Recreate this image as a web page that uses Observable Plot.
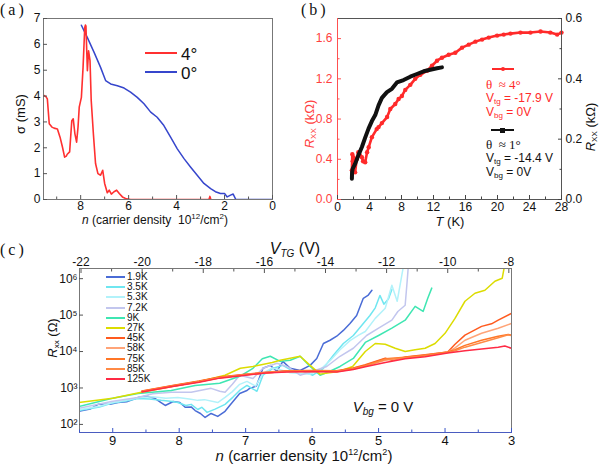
<!DOCTYPE html>
<html><head><meta charset="utf-8">
<script src="https://cdn.jsdelivr.net/npm/d3@7"></script>
<script src="https://cdn.jsdelivr.net/npm/@observablehq/plot@0.6"></script>
<style>
html,body{margin:0;padding:0;background:#fff;}
#wrap{position:relative;width:600px;height:466px;overflow:hidden;font-family:"Liberation Sans",Arial,sans-serif;color:#111;}
.abs{position:absolute;white-space:nowrap;line-height:1;}
.serif{font-family:"Liberation Serif","Times New Roman",serif;}
.sb{font-size:8px;position:relative;top:2px;vertical-align:baseline;line-height:0;}
.sp{font-size:8px;position:relative;top:-5px;vertical-align:baseline;line-height:0;}
svg{overflow:visible;}
</style></head><body><div id="wrap"></div>
<script>
// ---------- Panel (a): conductivity vs carrier density ----------
const aXTicks = [8, 6, 4, 2, 0];
const aXMinor = [9, 7, 5, 3, 1];
const aYTicks = [0, 1, 2, 3, 4, 5, 6, 7];
const aRed4 = [[9.53,4.02],[9.45,3.98],[9.39,3.89],[9.31,2.93],[9.2,2.8],[9.11,2.76],[8.97,2.73],[8.86,2.41],[8.76,2.03],[8.67,1.64],[8.6,1.68],[8.56,1.75],[8.46,1.84],[8.37,3.05],[8.31,3.12],[8.24,2.54],[8.17,2.22],[8.11,2.8],[8.06,3.57],[7.97,3.95],[7.9,5.11],[7.83,6.65],[7.8,6.75],[7.78,6.71],[7.72,4.98],[7.67,5.75],[7.61,5.37],[7.56,3.83],[7.47,2.54],[7.38,1.39],[7.28,1.0],[7.17,0.94],[7.08,1.13],[7.0,0.62],[6.89,0.26],[6.81,0.36],[6.72,0.21],[6.61,0.30],[6.5,0.36],[6.39,0.23],[6.26,0.10],[6.13,0.04],[5.92,0.0],[4.0,0.0],[2.65,0.0],[2.61,0.12],[2.57,0.0],[2.55,0.0]];
const aBlue0 = [[7.97,6.74],[7.72,6.26],[7.44,5.69],[7.17,5.11],[6.96,4.6],[6.75,4.47],[6.47,4.4],[6.19,4.31],[5.92,4.15],[5.64,3.95],[5.36,3.7],[5.08,3.38],[4.81,3.18],[4.53,2.86],[4.25,2.41],[3.97,1.96],[3.69,1.58],[3.42,1.26],[3.14,0.94],[2.86,0.62],[2.58,0.42],[2.38,0.30],[2.17,0.23],[2.0,0.23],[1.89,0.10],[1.75,0.17],[1.64,0.21],[1.53,0.0],[0,0]];

// ---------- Panel (b): Rxx vs temperature ----------
const bXTicks = [0, 4, 8, 12, 16, 20, 24, 28];
const bXMinor = [2, 6, 10, 14, 18, 22, 26];
const bLeftTicks = [0, 0.4, 0.8, 1.2, 1.6];
const bLeftMinor = [0.2, 0.6, 1.0, 1.4];
const bRightTicks = [0, 0.2, 0.4, 0.6];
const bRightMinor = [0.1, 0.3, 0.5];
const bRed4 = [[1.8,0.29],[1.85,0.45],[1.9,0.38],[2.0,0.42],[2.1,0.33],[2.2,0.27],[2.4,0.40],[2.6,0.47],[2.8,0.44],[3.05,0.42],[3.2,0.38],[3.46,0.37],[3.7,0.47],[3.9,0.52],[4.3,0.62],[4.9,0.70],[5.13,0.72],[5.55,0.76],[6.2,0.82],[6.6,0.90],[7.22,0.95],[7.64,1.00],[8.05,1.03],[8.47,1.09],[9.1,1.14],[9.72,1.2],[10.35,1.24],[11.19,1.28],[11.81,1.33],[12.44,1.38],[13.06,1.41],[13.9,1.44],[14.73,1.46],[15.57,1.51],[16.4,1.54],[17.24,1.57],[18.07,1.59],[18.91,1.61],[19.95,1.63],[20.78,1.64],[21.62,1.65],[22.87,1.66],[24.12,1.66],[25.38,1.67],[26.6,1.66],[27.46,1.64],[28,1.66]];
const bBlack1 = [[1.8,0.069],[1.82,0.09],[1.9,0.102],[2.2,0.118],[2.63,0.148],[3.05,0.174],[3.46,0.205],[3.88,0.235],[4.3,0.26],[4.72,0.28],[5.13,0.312],[5.55,0.337],[6.18,0.356],[6.8,0.367],[7.43,0.388],[8.26,0.396],[9.1,0.407],[9.93,0.416],[10.77,0.425],[11.6,0.43],[12.44,0.435],[13.06,0.438]];

// ---------- Panel (c): Rxx vs carrier density at several temperatures ----------
const cXTicks = [9, 8, 7, 6, 5, 4, 3];
const cXMinor = [9.5, 8.5, 7.5, 6.5, 5.5, 4.5, 3.5];
const cVtgTicks = [-22, -20, -18, -16, -14, -12, -10, -8];
const cVtgMinor = [-21, -19, -17, -15, -13, -11, -9];
const cVtgCalib = [[-22, 9.477], [-8, 3.04]]; // V_TG -> n correspondence
const cYTicks = [1e2, 1e3, 1e4, 1e5, 1e6];
const cLabels = ["1.9K","3.5K","5.3K","7.2K","9K","27K","45K","58K","75K","85K","125K"];
const cColors = ["#4a6cd6","#6fe6f0","#b2f2fa","#c2c6ee","#3fe6b2","#dcdc00","#ff5a1e","#ffa478","#ff7626","#ff8a46","#ff2a44"];
// pairs of [n (10^12/cm^2), log10 Rxx (Ohm)]
const c1_9K = [[9.51,2.36],[9.34,2.42],[9.22,2.55],[9.04,2.55],[8.92,2.60],[8.79,2.62],[8.62,2.74],[8.49,2.78],[8.36,2.71],[8.29,2.62],[8.21,2.52],[8.09,2.63],[7.99,2.60],[7.91,2.47],[7.82,2.48],[7.76,2.38],[7.68,2.30],[7.61,2.19],[7.52,2.30],[7.42,2.22],[7.31,2.36],[7.24,2.52],[7.09,2.85],[6.98,2.93],[6.94,2.99],[6.84,3.05],[6.74,3.54],[6.63,3.62],[6.53,3.46],[6.44,3.73],[6.33,3.54],[6.18,3.48],[6.03,3.62],[5.93,3.81],[5.83,4.22],[5.73,4.31],[5.63,4.42],[5.53,4.58],[5.43,4.77],[5.33,4.99],[5.23,5.46],[5.16,5.54],[5.10,5.68]];
const c3_5K = [[9.51,2.38],[9.2,2.48],[9.02,2.58],[8.8,2.64],[8.62,2.71],[8.45,2.70],[8.27,2.66],[8.1,2.63],[8.02,2.60],[7.9,2.52],[7.82,2.55],[7.72,2.41],[7.66,2.47],[7.58,2.33],[7.46,2.42],[7.31,2.55],[7.19,2.75],[7.08,2.95],[6.98,3.07],[6.9,2.98],[6.83,2.91],[6.74,3.35],[6.59,3.54],[6.44,3.62],[6.29,3.46],[6.14,3.46],[5.99,3.35],[5.83,3.54],[5.68,3.90],[5.53,4.22],[5.38,4.44],[5.23,4.77],[5.13,4.99],[5.05,5.20],[4.98,5.54],[4.92,5.30],[4.85,5.45],[4.80,5.70]];
const c5_3K = [[9.51,2.40],[9.2,2.50],[9.0,2.60],[8.8,2.66],[8.6,2.74],[8.4,2.76],[8.2,2.72],[8.02,2.74],[7.85,2.70],[7.72,2.66],[7.62,2.68],[7.42,2.60],[7.31,2.74],[7.2,2.9],[7.09,3.1],[6.98,3.18],[6.85,3.05],[6.74,3.4],[6.6,3.55],[6.48,3.5],[6.33,3.42],[6.18,3.4],[6.03,3.38],[5.88,3.5],[5.73,3.75],[5.58,4.05],[5.43,4.3],[5.3,4.45],[5.2,4.55],[5.05,4.91],[4.9,5.19],[4.8,5.82],[4.72,5.38],[4.65,6.1],[4.62,6.4]];
const c7_2K = [[9.51,2.44],[9.02,2.63],[8.62,2.74],[8.4,2.84],[8.12,2.88],[7.82,2.88],[7.52,2.99],[7.39,2.91],[7.31,2.88],[7.2,3.1],[7.09,3.35],[6.89,3.26],[6.74,3.54],[6.53,3.68],[6.38,3.59],[6.18,3.35],[5.99,3.46],[5.78,3.59],[5.58,3.87],[5.38,4.09],[5.18,4.44],[5.0,4.64],[4.8,4.86],[4.71,5.1],[4.6,5.27],[4.57,5.93],[4.55,6.4]];
const c9K = [[9.51,2.49],[9.02,2.71],[8.62,2.85],[8.12,2.93],[7.76,3.07],[7.39,3.13],[7.09,3.32],[6.89,3.54],[6.75,3.8],[6.63,3.87],[6.48,3.73],[6.33,3.76],[6.18,3.87],[6.03,3.59],[5.88,3.35],[5.73,3.46],[5.58,3.59],[5.38,3.81],[5.2,4.25],[5.0,4.44],[4.8,4.64],[4.6,4.86],[4.45,5.24],[4.33,5.1],[4.26,5.46],[4.2,5.74]];
const c27K = [[9.51,2.60],[9.0,2.72],[8.57,2.88],[8.02,3.07],[7.6,3.22],[7.31,3.35],[7.08,3.54],[6.89,3.59],[6.6,3.7],[6.48,3.76],[6.18,3.87],[6.03,3.62],[5.88,3.38],[5.6,3.45],[5.39,3.59],[5.2,4.0],[5.05,4.22],[4.9,4.2],[4.75,4.09],[4.6,4.0],[4.45,4.05],[4.3,4.09],[4.15,4.22],[4.0,4.5],[3.85,4.91],[3.7,5.38],[3.55,5.6],[3.4,5.68],[3.25,5.93],[3.14,6.01],[3.10,6.4]];
const c45K = [[8.56,2.92],[8.1,3.07],[7.7,3.19],[7.39,3.30],[7.0,3.38],[6.7,3.43],[6.38,3.47],[6.0,3.48],[5.63,3.47],[5.38,3.55],[5.2,3.64],[4.9,3.82],[4.8,3.76],[4.6,3.85],[4.3,3.91],[3.96,3.99],[3.85,4.2],[3.7,4.45],[3.45,4.69],[3.3,4.76],[3.2,4.86],[3.0,5.05]];
const c58K = [[8.56,2.90],[8.1,3.05],[7.7,3.17],[7.39,3.28],[7.0,3.36],[6.7,3.42],[6.38,3.45],[6.0,3.46],[5.63,3.45],[5.38,3.53],[5.2,3.6],[4.9,3.76],[4.6,3.82],[4.3,3.89],[3.96,3.98],[3.85,4.1],[3.7,4.31],[3.45,4.5],[3.2,4.64],[3.0,4.77]];
const c75K = [[8.56,2.91],[8.1,3.06],[7.7,3.18],[7.39,3.29],[7.0,3.37],[6.7,3.41],[6.38,3.46],[6.0,3.47],[5.63,3.46],[5.38,3.54],[5.2,3.62],[4.9,3.8],[4.6,3.84],[4.3,3.9],[3.96,3.99],[3.85,4.05],[3.7,4.17],[3.45,4.31],[3.2,4.42],[3.05,4.47],[3.0,4.45]];
const c85K = [[8.56,2.90],[8.1,3.05],[7.7,3.17],[7.39,3.28],[7.0,3.36],[6.7,3.42],[6.38,3.45],[6.0,3.46],[5.63,3.45],[5.38,3.52],[5.2,3.6],[4.9,3.78],[4.6,3.83],[4.3,3.88],[3.96,3.97],[3.85,4.02],[3.7,4.12],[3.45,4.25],[3.2,4.38],[3.05,4.46],[3.0,4.44]];
const c125K = [[8.56,2.89],[8.1,3.04],[7.7,3.16],[7.39,3.27],[7.0,3.35],[6.7,3.41],[6.38,3.44],[6.0,3.45],[5.63,3.44],[5.38,3.51],[5.2,3.58],[4.9,3.7],[4.6,3.8],[4.3,3.86],[3.96,3.96],[3.7,4.02],[3.45,4.07],[3.2,4.12],[3.1,4.15],[3.0,4.09]];
const cSeries = [c1_9K, c3_5K, c5_3K, c7_2K, c9K, c27K, c45K, c58K, c75K, c85K, c125K];

// ---------- drawing ----------
const FONT = '"Liberation Sans", Arial, sans-serif';
const RED = "#ff2a2a";
const W = document.getElementById("wrap");
function put(node, left, top) {
  node.style.position = "absolute"; node.style.left = left + "px"; node.style.top = top + "px";
  W.appendChild(node);
}
function txt(html, x, y, {size = 12, color = "#111", anchor = "middle", rotate = false, cls = "", style = ""} = {}) {
  const d = document.createElement("div");
  d.className = "abs " + cls;
  d.innerHTML = html;
  d.setAttribute("style", style);
  d.style.left = x + "px"; d.style.top = y + "px";
  d.style.fontSize = size + "px"; d.style.color = color;
  const tx = anchor === "middle" ? "-50%" : anchor === "end" ? "-100%" : "0";
  d.style.transform = `translate(${tx},-50%)` + (rotate ? " rotate(-90deg)" : "");
  W.appendChild(d);
}
function swatch(x, y, w, color, thick = 2, marker = null) {
  const d = document.createElement("div");
  d.className = "abs";
  d.style.left = x + "px"; d.style.top = (y - thick / 2) + "px";
  d.style.width = w + "px"; d.style.height = thick + "px"; d.style.background = color;
  W.appendChild(d);
  if (marker) {
    const m = document.createElement("div");
    m.className = "abs";
    const s = marker.size;
    m.style.left = (x + w / 2 - s / 2) + "px"; m.style.top = (y - s / 2) + "px";
    m.style.width = s + "px"; m.style.height = s + "px"; m.style.background = color;
    m.style.borderRadius = marker.round ? "50%" : "0";
    W.appendChild(m);
  }
}
const px = d => d[0], py = d => d[1];
const style = {fontFamily: FONT, fontSize: "12px", color: "#111", background: "transparent"};

// Panel (a)
const plotA = Plot.plot({
  width: 290, height: 230, marginLeft: 43, marginRight: 18, marginTop: 18, marginBottom: 31,
  style,
  x: {domain: [9.55, 0]},
  y: {domain: [0, 7]},
  marks: [
    Plot.line(aBlue0, {x: px, y: py, stroke: "#3646cc", strokeWidth: 1.5, clip: true}),
    Plot.line(aRed4, {x: px, y: py, stroke: "#ff3030", strokeWidth: 1.6, clip: true}),
    Plot.frame({stroke: "#777"}),
    Plot.axisX({ticks: aXTicks, tickSize: -4, tickPadding: 6, tickFormat: d => String(d), label: null, stroke: "#555"}),
    Plot.axisX({ticks: aXMinor, tickSize: -2.5, fill: "none", label: null, stroke: "#555"}),
    Plot.axisY({ticks: aYTicks, tickSize: -4, tickPadding: 7, tickFormat: d => String(d), label: null, stroke: "#555"})
  ]
});
put(plotA, 0, 0);

// Panel (b)
const plotB = Plot.plot({
  width: 300, height: 230, marginLeft: 37, marginRight: 39, marginTop: 18, marginBottom: 31,
  style,
  x: {domain: [0, 28]},
  y: {domain: [0, 1.8]},
  marks: [
    Plot.line(bRed4, {x: px, y: py, stroke: RED, strokeWidth: 2.6}),
    Plot.dot(bRed4, {x: px, y: py, r: 2.2, fill: RED}),
    Plot.line(bBlack1, {x: px, y: d => d[1] * 3, stroke: "#111", strokeWidth: 4}),
    Plot.frame({stroke: "#555"}),
    Plot.frame({anchor: "left", stroke: "#ff5050"}),
    Plot.axisX({ticks: bXTicks, tickSize: -4, tickPadding: 7, tickFormat: d => String(d), label: null, stroke: "#444"}),
    Plot.axisX({ticks: bXMinor, tickSize: -2.5, fill: "none", label: null, stroke: "#444"}),
    Plot.axisY({ticks: bLeftTicks, tickSize: -4, tickPadding: 9, tickFormat: d => d.toFixed(1), label: null, stroke: "#ff5050", fill: "#ff4040"}),
    Plot.axisY({ticks: bLeftMinor, tickSize: -2.5, fill: "none", label: null, stroke: "#ff5050"}),
    Plot.axisY({anchor: "right", ticks: bRightTicks.map(v => v * 3), tickSize: -4, tickPadding: 8, tickFormat: d => (d / 3).toFixed(1), label: null, stroke: "#444"}),
    Plot.axisY({anchor: "right", ticks: bRightMinor.map(v => v * 3), tickSize: -2.5, fill: "none", label: null, stroke: "#444"})
  ]
});
put(plotB, 300, 0);

// Panel (c)
const [[v0, n0], [v1, n1]] = cVtgCalib;
const vToN = v => n0 + (v - v0) * (n1 - n0) / (v1 - v0);
const nToV = n => v0 + (n - n0) * (v1 - v0) / (n1 - n0);
const sup = {"2": "²", "3": "³", "4": "⁴", "5": "⁵", "6": "⁶"};
const cMarks = cSeries.map((s, i) => Plot.line(s, {x: px, y: d => Math.pow(10, d[1]), stroke: cColors[i], strokeWidth: 1.5, clip: true}));
const plotC = Plot.plot({
  width: 600, height: 226, marginLeft: 79, marginRight: 89, marginTop: 28, marginBottom: 34,
  style,
  x: {domain: [9.5, 3]},
  y: {type: "log", domain: [60, 1.9e6]},
  marks: [
    ...cMarks,
    Plot.frame({stroke: "#777"}),
    Plot.frame({anchor: "bottom", stroke: "#4a5cc0"}),
    Plot.axisX({ticks: cXTicks, tickSize: -4, tickPadding: 7, tickFormat: d => String(d), label: null, stroke: "#3a56c8", fontSize: 13}),
    Plot.axisX({ticks: cXMinor, tickSize: -2.5, fill: "none", label: null, stroke: "#3a56c8"}),
    Plot.axisX({anchor: "top", ticks: cVtgTicks.map(vToN), tickSize: -4, tickPadding: 7, tickFormat: d => String(Math.round(nToV(d))), label: null, stroke: "#555", fontSize: 12}),
    Plot.axisX({anchor: "top", ticks: cVtgMinor.map(vToN), tickSize: -2.5, fill: "none", label: null, stroke: "#555"}),
    Plot.axisY({ticks: cYTicks, tickSize: -4, tickPadding: 6, tickFormat: d => "10" + sup[String(Math.round(Math.log10(d)))], label: null, stroke: "#555", fontSize: 12})
  ]
});
put(plotC, 0, 240);

// ---------- text & legends ----------
txt("(a)", 0, 10, {size: 16, anchor: "start", cls: "serif", style: "letter-spacing:3px"});
txt("(b)", 301, 10, {size: 16, anchor: "start", cls: "serif", style: "letter-spacing:3px"});
txt("(c)", 0, 250, {size: 16, anchor: "start", cls: "serif", style: "letter-spacing:3px"});

// (a)
txt("σ (mS)", 20, 114, {size: 13, rotate: true});
txt("<i>n</i> (carrier density&nbsp; 10<span class='sp'>12</span>/cm<span class='sp'>2</span>)", 155, 220, {size: 12});
swatch(145, 53, 32, "#ff3030", 2);
txt("4°", 181, 54, {size: 17, anchor: "start"});
swatch(145, 72, 32, "#3646cc", 2);
txt("0°", 181, 73, {size: 17, anchor: "start"});

// (b)
txt("<i>R</i><span class='sb'>XX</span> (kΩ)", 309, 124, {size: 13, rotate: true, color: "#ff4040"});
txt("<i>R</i><span class='sb'>XX</span> (kΩ)", 590, 127, {size: 13, rotate: true});
txt("<i>T</i> (K)", 450, 221, {size: 13});
swatch(492, 69, 22, RED, 2, {size: 4, round: true});
txt("<span class='serif'>θ &nbsp;≈ 4°</span>", 486, 84, {size: 13, anchor: "start", color: RED});
txt("V<span class='sb'>tg</span> = -17.9 V", 486, 98, {size: 12, anchor: "start", color: RED});
txt("V<span class='sb'>bg</span> = 0V", 486, 112, {size: 12, anchor: "start", color: RED});
swatch(491, 130, 23, "#111", 2.5, {size: 5, round: false});
txt("<span class='serif'>θ &nbsp;≈ 1°</span>", 486, 144, {size: 13, anchor: "start"});
txt("V<span class='sb'>tg</span> = -14.4 V", 486, 158, {size: 12, anchor: "start"});
txt("V<span class='sb'>bg</span> = 0V", 486, 172, {size: 12, anchor: "start"});

// (c)
txt("<i>V<span class='sb' style='font-size:10px;top:3px'>TG</span></i> (V)", 295, 249, {size: 16});
txt("<i>R</i><span class='sb'>xx</span> (Ω)", 52, 338, {size: 13, rotate: true});
txt("<i>n</i> (carrier density 10<span class='sp' style='font-size:9px;top:-6px'>12</span>/cm<span class='sp' style='font-size:9px;top:-6px'>2</span>)", 304, 455, {size: 15});
txt("<i>V<span class='sb' style='font-size:10px;top:3px'>bg</span></i> = 0 V", 383, 406, {size: 15});
cLabels.forEach((lab, i) => {
  const y = 277 + i * 10.2;
  swatch(106, y, 19, cColors[i], 2);
  txt(lab, 127, y, {size: 10, anchor: "start"});
});
</script></body></html>
